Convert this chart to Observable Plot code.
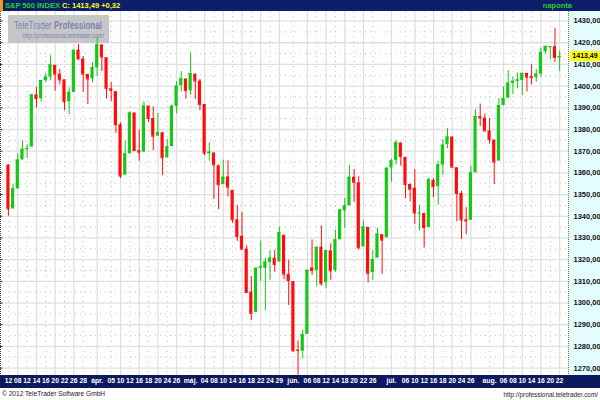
<!DOCTYPE html>
<html>
<head>
<meta charset="utf-8">
<script src="https://cdn.jsdelivr.net/npm/d3@7"></script>
<script src="https://cdn.jsdelivr.net/npm/@observablehq/plot@0.6"></script>
<style>
  body { margin: 0; background: #fff; }
  #wrap { position: relative; width: 600px; height: 400px; overflow: hidden; background: #fff;
          font-family: "Liberation Sans", Arial, sans-serif; }
  .abs { position: absolute; }
  #head { left: 0; top: 0; width: 600px; height: 11px; background: #0d1f6b; }
  #head .mark { position: absolute; left: 0; top: 0; width: 3px; height: 11px; background: #f39c12; }
  #head .title { position: absolute; left: 5px; top: 0; font: bold 7.5px/11px "Liberation Sans", Arial, sans-serif; white-space: nowrap; }
  #head .freq { position: absolute; right: 28px; top: 0; font: bold 7.5px/11px "Liberation Sans", Arial, sans-serif; color: #1fd21f; }
  #panel { left: 568px; top: 11px; width: 32px; height: 364px; background: #e3fdff; }
  #band { left: 0; top: 375px; width: 600px; height: 13px; background: #0b1a5e; }
  #foot1 { left: 2px; top: 388px; font: 6.6px/12px "Liberation Sans", Arial, sans-serif; color: #222; }
  #foot2 { right: 2px; top: 389px; font: 6.4px/11px "Liberation Sans", Arial, sans-serif; color: #222; }
  #wm { left: 8px; top: 15px; width: 101px; height: 28px; background: #c6c6c6; }
  #price { left: 570px; width: 30px; height: 10px; background: #ffff00; color: #000;
           font: bold 7px/10px "Liberation Sans", Arial, sans-serif; text-align: center; }
  #grid, #chart { left: 0; top: 0; }
</style>
</head>
<body>
<div id="wrap">
  <div id="panel" class="abs"></div>
  <div id="band" class="abs"></div>
  <div id="grid" class="abs"></div>
  <div id="wm" class="abs">
    <svg width="101" height="28">
      <g transform="translate(6,14) scale(0.725,1)">
        <text x="0" y="0" fill="#7684b6" font-family="Liberation Sans, Arial, sans-serif" font-size="11">TeleTrader <tspan font-weight="bold">Professional</tspan></text>
      </g>
      <g transform="translate(96,22.5) scale(0.85,1)">
        <text x="0" y="0" text-anchor="end" fill="#7684b6" font-family="Liberation Sans, Arial, sans-serif" font-size="6.5">http://professional.teletrader.com/</text>
      </g>
    </svg>
  </div>
  <div id="chart" class="abs"></div>
  <div id="head" class="abs">
    <div class="mark"></div>
    <div class="title"><span style="color:#1fd21f">S&amp;P 500 INDEX</span> <span style="color:#ffff00">C: 1413,49 +0,32</span></div>
    <div class="freq">naponta</div>
  </div>
  <div id="foot1" class="abs">© 2012 TeleTrader Software GmbH</div>
  <div id="foot2" class="abs">http://professional.teletrader.com/</div>
  <div id="price" class="abs">1413,49</div>
</div>
<script>
// S&P 500 daily candles, 6 Mar 2012 – 22 Aug 2012 (one entry per trading day)
const open = [
  1363.63,1343.39,1352.65,1365.97,1370.78,1371.92,1395.95,1394.17,1402.55,1404.17,
  1409.59,1405.52,1402.89,1392.78,1397.11,1416.55,1412.52,1405.39,1403.31,1408.47,
  1418.98,1413.09,1398.79,1397.45,1382.18,1358.98,1368.77,1387.61,1370.27,1369.57,
  1390.78,1385.08,1376.96,1378.53,1366.97,1372.11,1390.64,1400.19,1403.26,1397.86,
  1405.50,1402.32,1391.51,1368.79,1369.16,1363.20,1354.58,1358.11,1351.93,1338.36,
  1330.78,1324.82,1305.05,1295.73,1316.09,1316.02,1318.72,1320.64,1318.90,1331.25,
  1313.09,1309.87,1278.29,1277.82,1285.61,1316.15,1314.99,1325.72,1309.40,1324.02,
  1314.88,1329.19,1342.42,1344.83,1357.99,1355.43,1325.92,1334.90,1314.09,1320.71,
  1331.52,1330.12,1362.33,1365.75,1373.72,1367.09,1354.66,1352.96,1341.40,1341.29,
  1334.81,1356.50,1353.68,1363.58,1373.01,1376.51,1362.34,1350.52,1338.35,1338.17,
  1360.05,1385.94,1385.27,1379.32,1375.13,1365.45,1391.04,1394.46,1401.23,1402.26,
  1402.58,1405.87,1404.36,1403.89,1405.56,1415.84,1417.85,1418.13,1413.09
];
const high = [
  1363.63,1354.85,1368.72,1374.76,1373.04,1396.13,1399.42,1402.63,1405.88,1414.00,
  1409.59,1407.75,1402.89,1399.18,1416.58,1419.15,1413.65,1405.39,1410.89,1422.38,
  1419.00,1413.09,1401.60,1397.45,1383.01,1374.71,1388.13,1387.61,1379.66,1392.76,
  1390.78,1390.46,1387.40,1378.53,1375.57,1391.37,1402.09,1406.64,1403.26,1415.32,
  1405.50,1403.07,1391.51,1373.91,1369.16,1363.73,1365.88,1365.66,1351.93,1344.94,
  1341.78,1326.36,1312.24,1316.39,1328.49,1320.71,1324.14,1324.20,1334.93,1331.25,
  1319.74,1309.87,1282.55,1287.62,1315.13,1329.05,1325.81,1335.52,1324.31,1327.28,
  1333.68,1343.32,1348.22,1363.46,1361.57,1358.27,1337.82,1334.90,1324.24,1334.40,
  1331.52,1362.17,1366.35,1374.81,1373.85,1367.09,1354.87,1361.54,1345.00,1341.29,
  1357.70,1357.26,1365.36,1375.26,1380.39,1376.51,1362.34,1351.53,1343.98,1363.13,
  1389.19,1391.74,1387.16,1385.03,1375.13,1394.16,1399.63,1407.14,1404.14,1405.95,
  1405.98,1405.87,1410.03,1407.73,1417.44,1418.71,1418.13,1426.68,1416.12
];
const low = [
  1340.03,1343.39,1352.65,1365.97,1366.69,1371.92,1389.97,1392.78,1401.47,1402.43,
  1397.68,1400.64,1388.73,1386.87,1397.11,1411.95,1397.20,1391.56,1401.42,1404.46,
  1406.75,1394.09,1392.92,1378.24,1357.38,1358.98,1368.77,1369.85,1365.38,1369.57,
  1383.29,1370.30,1376.96,1358.79,1366.82,1372.11,1387.28,1397.31,1394.00,1395.73,
  1393.92,1388.71,1367.96,1365.36,1347.75,1343.13,1354.58,1348.89,1336.61,1328.41,
  1324.79,1304.86,1291.98,1295.73,1310.04,1296.53,1310.50,1314.23,1318.90,1310.76,
  1298.90,1277.25,1266.74,1274.16,1285.61,1312.68,1307.77,1307.73,1306.62,1310.51,
  1314.14,1329.19,1334.46,1344.83,1346.45,1324.41,1325.92,1309.27,1310.30,1320.71,
  1313.29,1330.12,1355.70,1363.53,1363.02,1348.03,1346.65,1336.27,1333.25,1325.41,
  1334.81,1348.51,1345.07,1358.96,1371.21,1362.19,1337.56,1329.24,1331.50,1338.17,
  1360.05,1381.37,1379.17,1373.35,1354.65,1365.45,1391.04,1394.46,1396.13,1398.80,
  1395.62,1397.32,1400.60,1401.83,1404.15,1414.67,1412.12,1410.86,1406.78
];
const close = [
  1343.36,1352.63,1365.91,1370.87,1371.09,1395.95,1394.28,1402.60,1404.17,1409.75,
  1405.52,1402.89,1392.78,1397.11,1416.51,1412.52,1405.54,1403.28,1408.47,1419.04,
  1413.38,1398.96,1398.08,1382.20,1358.59,1368.71,1387.57,1370.26,1369.57,1390.78,
  1385.14,1376.92,1378.53,1366.94,1371.97,1390.69,1399.98,1403.36,1397.91,1405.82,
  1402.31,1391.57,1369.10,1369.58,1363.72,1354.58,1357.99,1353.39,1338.35,1330.66,
  1324.80,1304.86,1295.22,1315.99,1316.63,1318.86,1320.68,1317.82,1332.42,1313.32,
  1310.33,1278.04,1278.18,1285.50,1315.13,1314.99,1325.66,1308.93,1324.18,1314.88,
  1329.10,1342.84,1344.78,1357.98,1355.69,1325.51,1335.02,1313.72,1319.99,1331.85,
  1329.04,1362.16,1365.51,1374.02,1367.58,1354.68,1352.46,1341.47,1341.45,1334.76,
  1356.78,1353.64,1363.67,1372.78,1376.51,1362.66,1350.52,1338.31,1337.89,1360.02,
  1385.97,1385.30,1379.32,1375.32,1365.00,1390.99,1394.23,1401.35,1402.22,1402.80,
  1405.87,1404.11,1403.93,1405.53,1415.51,1418.16,1418.13,1413.17,1413.49
];

// Date axis: trading-day position and its label
const tickIndex = [0,2,4,6,8,10,12,14,16,19,22,24,26,28,30,32,34,36,39,42,44,46,48,50,52,54,56,58,
                   61,64,66,68,70,72,74,76,78,82,85,87,89,91,93,95,97,99,103,106,108,110,112,114,116,118];
const tickLabels = ["12","08","12","14","16","20","22","26","28","ápr.","05","10","12","16","18","20","24","26",
                    "máj.","04","08","10","14","16","18","22","24","29","jún.","06","08","12","14","18","20","22","26",
                    "júl.","06","10","12","16","18","20","24","26","aug.","06","08","10","14","16","20","22"];

// Price axis: labelled levels and the dotted half-steps between them
const priceTicks = d3.range(1270, 1431, 10);
const priceHalf = d3.range(1275, 1431, 10);
const lastClose = close[close.length - 1];

const UP = "#14c814", DOWN = "#ff0d0d";
const candles = open.map((o, i) => ({i, open: o, high: high[i], low: low[i], close: close[i]}));
const col = d => d.close >= d.open ? UP : DOWN;

// solid vertical lines on every other date label, dotted on the rest
const n = tickIndex.length;
const majorX = tickIndex.filter((_, k) => (n - 1 - k) % 2 === 0);
const minorX = tickIndex.filter((_, k) => (n - 1 - k) % 2 === 1);

const frame = {
  width: 600,
  height: 400,
  marginTop: 11,
  marginBottom: 25,
  marginLeft: 0,
  marginRight: 32,
  style: {background: "transparent", overflow: "hidden", fontFamily: '"Liberation Sans", Arial, sans-serif'},
  x: {domain: [-1.7, 119.9], axis: null},
  y: {domain: [1266.6, 1434.4], axis: null}
};

// background grid
const grid = Plot.plot({
  ...frame,
  marks: [
    Plot.ruleY(priceHalf, {y: d => d, stroke: "#c2c2c2", strokeDasharray: "1,4", strokeWidth: 1}),
    Plot.ruleX(minorX, {x: d => d, stroke: "#c2c2c2", strokeDasharray: "1,4", strokeWidth: 1}),
    Plot.ruleY(priceTicks, {y: d => d, stroke: "#e0e0e0", strokeWidth: 1.3}),
    Plot.ruleX(majorX, {x: d => d, stroke: "#e0e0e0", strokeWidth: 1.3})
  ]
});
document.getElementById("grid").appendChild(grid);

// candles and axes
const chart = Plot.plot({
  ...frame,
  marks: [
    // left edge ticks
    Plot.ruleY(priceTicks, {x1: -1.7, x2: -1.2, stroke: "#222"}),
    Plot.ruleX([-1.7], {stroke: "#444", strokeDasharray: "1,1"}),
    // right panel separator
    Plot.ruleX([119.9], {stroke: "#7a7a30", strokeDasharray: "1,1"}),
    // candles: wick, body, close line
    Plot.ruleX(candles, {x: "i", y1: "low", y2: "high", stroke: col, strokeWidth: 1}),
    Plot.rect(candles, {x1: d => d.i - 0.34, x2: d => d.i + 0.34, y1: "open", y2: "close", fill: col}),
    Plot.ruleY(candles, {x1: d => d.i - 0.34, x2: d => d.i + 0.34, y: "close", stroke: col}),
    // price axis on the right
    Plot.axisY({anchor: "right", ticks: priceTicks, tickSize: 0, tickPadding: 5,
                tickFormat: d => d.toFixed(2).replace(".", ","),
                fontSize: 7.5, fontWeight: "bold", fill: "#111", color: "#111"}),
    // date labels in the bottom band
    Plot.text(tickLabels, {x: (d, i) => tickIndex[i], text: d => d, frameAnchor: "bottom", dy: 7,
                           fill: "#ffffff", fontSize: 6.8, fontWeight: "bold"})
  ]
});
document.getElementById("chart").appendChild(chart);

// last-price marker on the price axis
const py = chart.scale("y").apply(lastClose);
document.getElementById("price").style.top = (py - 5) + "px";
</script>
</body>
</html>
